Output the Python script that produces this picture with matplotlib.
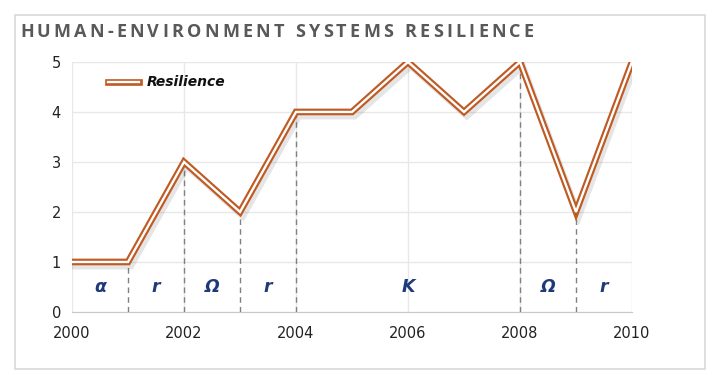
import matplotlib
matplotlib.use('Agg')
import matplotlib.pyplot as plt
import matplotlib.patheffects as pe
from matplotlib.patches import Rectangle

years = [2000, 2001, 2002, 2003, 2004, 2005, 2006, 2007, 2008, 2009, 2010]
resilience = [1, 1, 3, 2, 4, 4, 5, 4, 5, 2, 5]

# phase boundaries (dashed drop lines) and phase labels
breaks = [2001, 2002, 2003, 2004, 2008, 2009]
phase_x = [2000.5, 2001.5, 2002.5, 2003.5, 2006, 2008.5, 2009.5]
phase_txt = ['α', 'r', 'Ω', 'r', 'K', 'Ω', 'r']

title = 'HUMAN-ENVIRONMENT SYSTEMS RESILIENCE'

brown = '#BF5A22'
navy = '#1F3A78'

fig = plt.figure(figsize=(7.18, 3.80), dpi=100)
ax = fig.add_axes([0.1003, 0.179, 0.7799, 0.658])

# outer frame
fig.patches.append(Rectangle((15 / 718, 1 - 369 / 380), 690 / 718, 354 / 380,
                             transform=fig.transFigure, fill=False,
                             edgecolor='#D9D9D9', lw=1.2))

ax.set_xlim(2000, 2010)
ax.set_ylim(0, 5)
ax.set_xticks(range(2000, 2011, 2))
ax.set_yticks(range(0, 6))
ax.grid(True, color='#E8E8E8', lw=1)
ax.set_axisbelow(True)
for s in ['top', 'right', 'left']:
    ax.spines[s].set_visible(False)
ax.spines['bottom'].set_color('#C8C8C8')
ax.tick_params(length=0, labelsize=10.5, colors='#222222', pad=8)
ax.tick_params(axis='x', pad=10)

for b in breaks:
    v = resilience[years.index(b)]
    ax.plot([b, b], [0, v], ls=(0, (4, 3)), color='#808080', lw=1, zorder=2)

ax.plot(years, resilience, color=brown, lw=4.8, solid_joinstyle='miter', zorder=3,
        path_effects=[pe.SimpleLineShadow(offset=(2, -3), alpha=0.15, shadow_color='#555555'),
                      pe.Normal()])
ax.plot(years, resilience, color='white', lw=1.7, solid_joinstyle='miter', zorder=4)

for x, t in zip(phase_x, phase_txt):
    ax.text(x, 0.5, t, color=navy, fontsize=12.5, fontweight='bold',
            fontstyle='italic', ha='center', va='center', zorder=5)

# legend
ax.plot([2000.65, 2001.2], [4.6, 4.6], color=brown, lw=4.8, clip_on=False)
ax.plot([2000.65, 2001.2], [4.6, 4.6], color='white', lw=1.7, clip_on=False)
ax.text(2001.33, 4.6, 'Resilience', fontsize=10, fontweight='bold', fontstyle='italic',
        ha='left', va='center', color='#111111')

# letter-spaced title
renderer = fig.canvas.get_renderer()
xpos = 20
for ch in title:
    t = fig.text(xpos / 718, 1 - 32 / 380, ch, fontsize=13, fontweight='bold',
                 color='#595959', ha='left', va='center', family='Open Sans')
    w = t.get_window_extent(renderer).width if ch != ' ' else 5
    xpos += w + 3.2

fig.savefig('out.png', dpi=100)
